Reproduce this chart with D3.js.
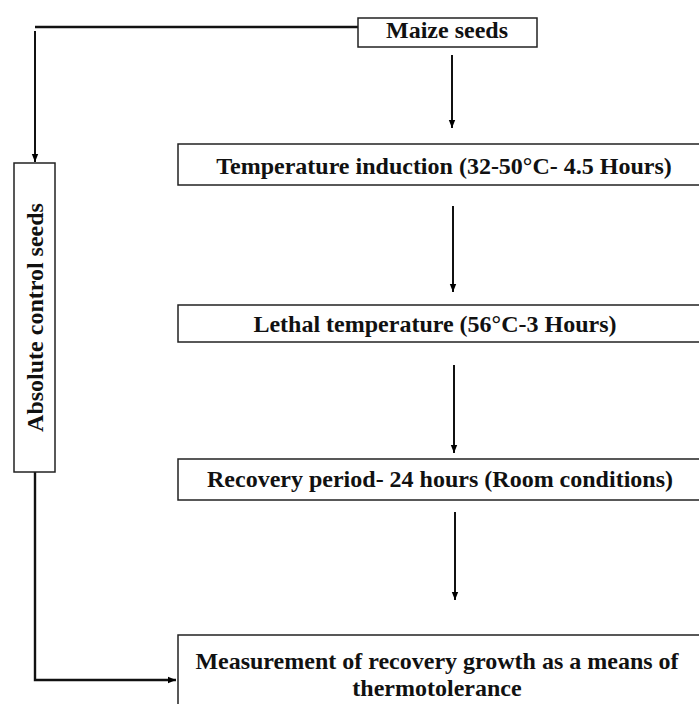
<!DOCTYPE html>
<html><head><meta charset="utf-8">
<script src="https://cdn.jsdelivr.net/npm/d3@7"></script>
<style>html,body{margin:0;padding:0;background:#fff;overflow:hidden}</style>
</head><body>
<svg id="c" width="699" height="704"></svg>
<script>
// Flowchart content
const stepLabels = [
  ["Maize seeds"],
  ["Temperature induction (32-50°C- 4.5 Hours)"],
  ["Lethal temperature (56°C-3 Hours)"],
  ["Recovery period- 24 hours (Room conditions)"],
  ["Measurement of recovery growth as a means of", "thermotolerance"]
];
const controlLabel = "Absolute control seeds";

// Layout (pixels)
const boxes = [
  {x0:358, x1:537, y0:18, y1:47},
  {x0:178, x1:702, y0:144, y1:185},
  {x0:178, x1:702, y0:305, y1:342},
  {x0:178, x1:702, y0:459, y1:500},
  {x0:178, x1:702, y0:635, y1:710}
];
const mainArrows = [
  {x:452, y0:55, y1:128},
  {x:453, y0:206, y1:292},
  {x:454, y0:365, y1:453},
  {x:455, y0:512, y1:600}
];
const ctrl = {x0:14, x1:55, y0:163, y1:472};
const textPos = [
  {cx:447, base:38},
  {cx:444, base:174},
  {cx:435, base:332},
  {cx:440, base:487},
  {cx:437, base:669}
];
const lineGap = 27;

const svg = d3.select("#c");
const font = "'Liberation Serif','Times New Roman',serif";
const fs = 24;

svg.append("defs").append("marker")
  .attr("id","ah").attr("viewBox","0 0 10 10").attr("refX",10).attr("refY",5)
  .attr("markerWidth",8).attr("markerHeight",9).attr("markerUnits","userSpaceOnUse")
  .attr("orient","auto")
  .append("path").attr("d","M0,1 L10,5 L0,9 Z").attr("fill","#000");

const line = d3.line();

// connectors
svg.append("path").attr("d", line([[boxes[0].x0,27],[35,27]]))
  .attr("stroke","#111").attr("stroke-width",2.4).attr("fill","none");
svg.append("path").attr("d", line([[35,31],[35,162]]))
  .attr("stroke","#111").attr("stroke-width",2).attr("fill","none").attr("marker-end","url(#ah)");
svg.append("path").attr("d", line([[35,ctrl.y1],[35,680],[176,680]]))
  .attr("stroke","#111").attr("stroke-width",2.4).attr("fill","none").attr("marker-end","url(#ah)");

svg.selectAll("path.ar").data(mainArrows).join("path").attr("class","ar")
  .attr("d", d=>line([[d.x,d.y0],[d.x,d.y1]]))
  .attr("stroke","#111").attr("stroke-width",2).attr("fill","none").attr("marker-end","url(#ah)");

// boxes
svg.selectAll("rect.b").data(boxes).join("rect").attr("class","b")
  .attr("x",d=>d.x0).attr("y",d=>d.y0).attr("width",d=>d.x1-d.x0).attr("height",d=>d.y1-d.y0)
  .attr("fill","#fff").attr("stroke","#222").attr("stroke-width",1.5);

svg.append("rect").attr("x",ctrl.x0).attr("y",ctrl.y0).attr("width",ctrl.x1-ctrl.x0).attr("height",ctrl.y1-ctrl.y0)
  .attr("fill","#fff").attr("stroke","#222").attr("stroke-width",1.5);

// texts
stepLabels.forEach((lines,i)=>{
  const t = svg.append("text").attr("text-anchor","middle")
    .attr("font-family",font).attr("font-weight","bold").attr("font-size",fs).attr("fill","#111");
  lines.forEach((s,j)=>{
    t.append("tspan").attr("x",textPos[i].cx).attr("y",textPos[i].base + j*lineGap).text(s);
  });
});
svg.append("text").attr("transform",`translate(35,${(ctrl.y0+ctrl.y1)/2}) rotate(-90)`)
  .attr("text-anchor","middle").attr("dy","0.35em")
  .attr("font-family",font).attr("font-weight","bold").attr("font-size",fs).attr("fill","#111")
  .text(controlLabel);
</script>
</body></html>
